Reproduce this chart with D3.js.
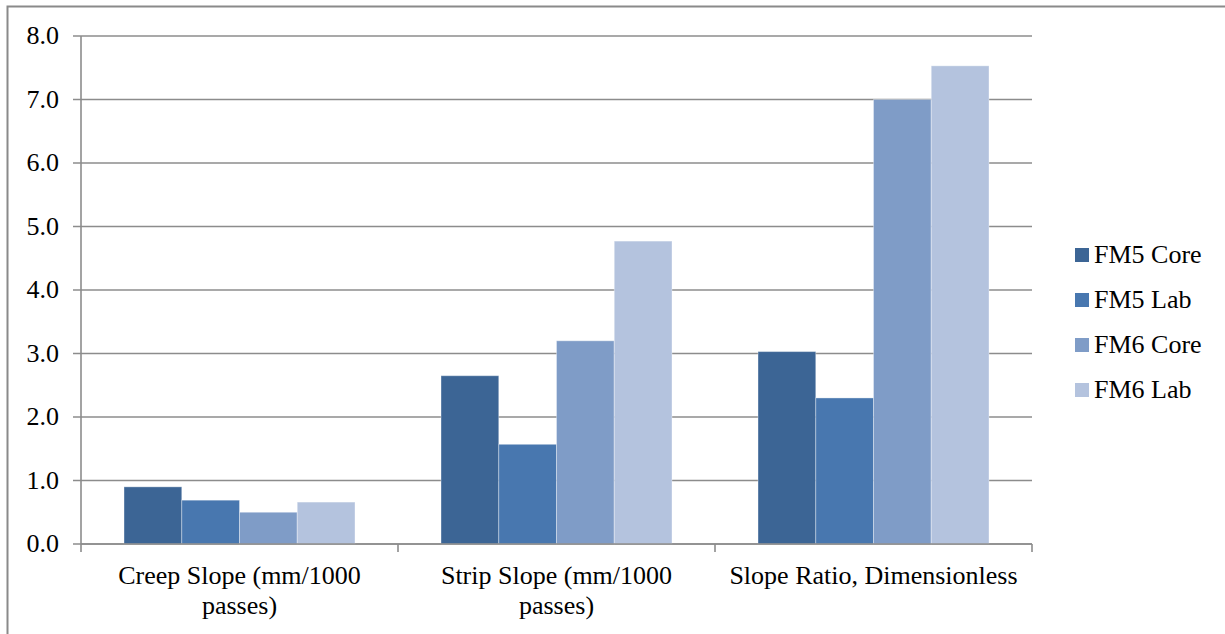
<!DOCTYPE html>
<html><head><meta charset="utf-8">
<script src="https://cdn.jsdelivr.net/npm/d3@7/dist/d3.min.js"></script>
<style>body{margin:0;background:#fff}svg{display:block}svg text{font-family:'Liberation Serif','Times New Roman',Tinos,Times,serif !important}</style>
</head><body><svg id="c" width="1225" height="634"></svg>
<script>
const categories = [["Creep Slope (mm/1000","passes)"],["Strip Slope (mm/1000","passes)"],["Slope Ratio, Dimensionless"]];
const seriesNames = ["FM5 Core","FM5 Lab","FM6 Core","FM6 Lab"];
const fm5Core = [0.90, 2.65, 3.03];
const fm5Lab  = [0.69, 1.57, 2.30];
const fm6Core = [0.50, 3.20, 7.00];
const fm6Lab  = [0.66, 4.77, 7.53];
const colors = ["#3C6595","#4877AF","#7F9CC7","#B4C3DE"];
const yTicks = [0,1,2,3,4,5,6,7,8];

const series = [fm5Core, fm5Lab, fm6Core, fm6Lab];
const svg = d3.select("#c");
const FONT = "'Liberation Serif'";
const FS = 26;
const L = 81, R = 1032, T = 36, B = 544;

// outer border
svg.append("rect").attr("x",7.5).attr("y",6.5).attr("width",1240).attr("height",640)
  .attr("fill","none").attr("stroke","#8a8a8a").attr("stroke-width",2);

const x0 = d3.scaleBand().domain(d3.range(categories.length)).range([L,R]).paddingInner(0).paddingOuter(0);
const x1 = d3.scaleBand().domain(d3.range(seriesNames.length)).range([0,x0.bandwidth()]).paddingInner(0).paddingOuter(0.745);
const y = d3.scaleLinear().domain([0,8]).range([B,T]);

// gridlines
svg.append("g").selectAll("line").data(yTicks).join("line")
  .attr("x1",L-8).attr("x2",R).attr("y1",d=>y(d)).attr("y2",d=>y(d))
  .attr("stroke","#8c8c8c").attr("stroke-width",1.6);

// y axis
svg.append("line").attr("x1",L).attr("x2",L).attr("y1",T).attr("y2",B)
  .attr("stroke","#8c8c8c").attr("stroke-width",1.6);
svg.append("g").selectAll("text").data(yTicks).join("text")
  .attr("x",59).attr("y",d=>y(d)+8).attr("text-anchor","end").attr("font-size",FS)
  .attr("font-family",FONT).attr("fill","#000")
  .text(d=>d3.format(".1f")(d));

// bars
const g = svg.append("g");
series.forEach((vals,si)=>{
  g.selectAll(null).data(vals).join("rect")
    .attr("x",(d,i)=>x0(i)+x1(si)).attr("width",x1.bandwidth())
    .attr("y",d=>y(d)).attr("height",d=>B-y(d))
    .attr("fill",colors[si]).attr("stroke","#ffffff").attr("stroke-opacity",0.35).attr("stroke-width",1);
});

// x axis
svg.append("line").attr("x1",L).attr("x2",R).attr("y1",B).attr("y2",B)
  .attr("stroke","#8c8c8c").attr("stroke-width",1.6);
const xt = d3.range(categories.length+1).map(i=> i<categories.length ? x0(i) : R);
svg.append("g").selectAll("line").data(xt).join("line")
  .attr("x1",d=>d).attr("x2",d=>d).attr("y1",B).attr("y2",B+8)
  .attr("stroke","#8c8c8c").attr("stroke-width",1.6);
const lab = svg.append("g").selectAll("text").data(categories).join("text")
  .attr("x",(d,i)=>x0(i)+x0.bandwidth()/2).attr("y",584).attr("text-anchor","middle").attr("font-size",FS)
  .attr("font-family",FONT).attr("fill","#000");
lab.each(function(d,i){
  const t = d3.select(this);
  d.forEach((line,k)=>t.append("tspan").attr("x",x0(i)+x0.bandwidth()/2).attr("dy",k?30:0).text(line));
});

// legend
const lg = svg.append("g").selectAll("g").data(seriesNames).join("g")
  .attr("transform",(d,i)=>`translate(1075,${248+i*45})`);
lg.append("rect").attr("width",14).attr("height",14).attr("fill",(d,i)=>colors[i]);
lg.append("text").attr("x",19).attr("y",15).attr("font-size",FS).attr("font-family",FONT).attr("fill","#000").text(d=>d);
</script></body></html>
